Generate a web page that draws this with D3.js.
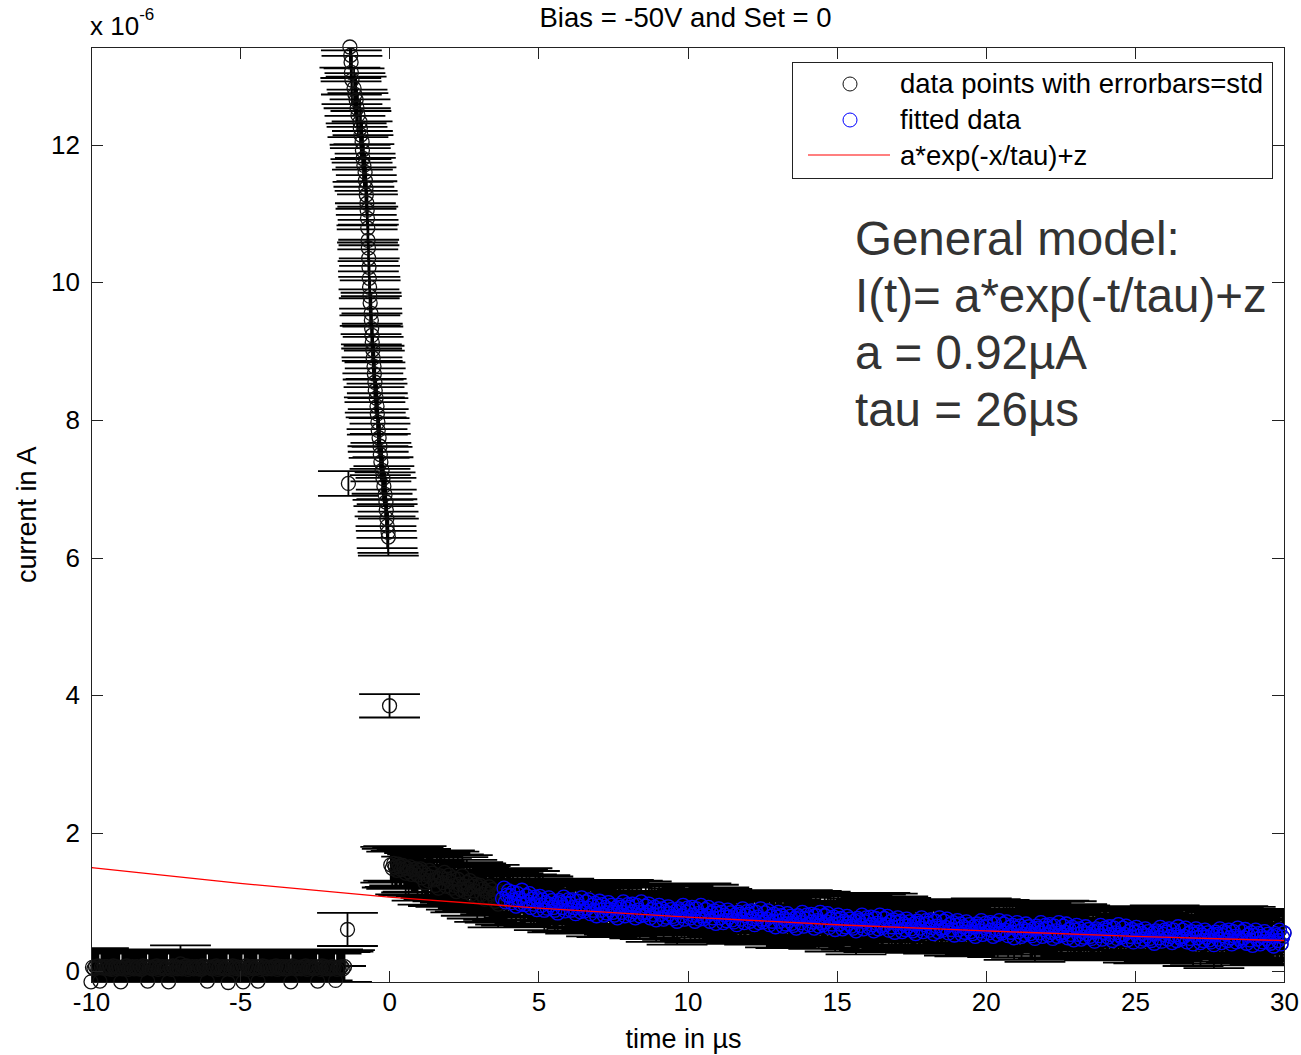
<!DOCTYPE html>
<html>
<head>
<meta charset="utf-8">
<script src="https://cdn.jsdelivr.net/npm/d3@7"></script>
<style>
	body { margin: 0; background: #fff; }
	svg { display: block; }
	text { font-family: 'Liberation Sans', Arial, sans-serif; }
</style>
</head>
<body>
<svg id="chart" width="1301" height="1055"></svg>
<script>
'use strict';

// values in microampere (axis shows x 10^-6 A), time in microseconds
var xTicks = [-10, -5, 0, 5, 10, 15, 20, 25, 30];
var yTicks = [0, 2, 4, 6, 8, 10, 12];

// flat part before the pulse, sampled every 0.05 us from -10 us
var baseStart = -10.0;
var baseStep  = 0.05;
var baseCurrent = [
	-0.16, 0.05, 0.03, 0.06, 0.04, 0.07, -0.15, 0.05, 0.04, 0.06,
	0.04, 0.06, 0.03, 0.05, 0.02, 0.07, 0.04, 0.06, 0.03, 0.05,
	-0.16, 0.03, 0.06, 0.04, 0.07, 0.02, 0.05, 0.04, 0.06, 0.03,
	0.04, 0.06, 0.03, 0.05, 0.02, 0.07, 0.04, 0.06, -0.15, 0.05,
	0.05, 0.03, 0.06, 0.04, 0.07, 0.02, 0.05, 0.04, 0.06, 0.03,
	0.04, 0.06, -0.16, 0.05, 0.02, 0.07, 0.04, 0.06, 0.03, 0.05,
	0.10, 0.03, 0.06, 0.04, 0.07, 0.02, 0.05, 0.04, 0.06, 0.03,
	0.04, 0.06, 0.03, 0.05, 0.02, 0.07, 0.04, 0.06, -0.15, 0.05,
	0.05, 0.03, 0.06, 0.04, 0.07, 0.02, 0.05, 0.04, 0.06, 0.03,
	0.04, 0.06, -0.17, 0.05, 0.02, 0.07, 0.04, 0.06, 0.03, 0.05,
	0.05, 0.03, -0.16, 0.04, 0.07, 0.02, 0.05, 0.04, 0.06, 0.03,
	0.04, 0.06, -0.15, 0.05, 0.02, 0.07, 0.04, 0.06, 0.03, 0.05,
	0.05, 0.03, 0.06, 0.04, 0.07, 0.02, 0.05, 0.04, 0.06, 0.03,
	0.04, 0.06, 0.03, 0.05, -0.16, 0.07, 0.04, 0.06, 0.03, 0.05,
	0.05, 0.03, 0.06, 0.04, 0.07, 0.02, 0.05, 0.04, 0.06, 0.03,
	0.04, 0.06, -0.15, 0.05, 0.02, 0.07, 0.04, 0.06, 0.03, 0.05,
	0.05, 0.03, 0.06, 0.04, -0.14, 0.02, 0.05, 0.04, 0.06, 0.03,
	0.06
];
var baseStd = [
	0.24, 0.22, 0.25, 0.23, 0.21, 0.26, 0.24, 0.23, 0.22, 0.25,
	0.23, 0.25, 0.22, 0.24, 0.26, 0.21, 0.24, 0.22, 0.25, 0.23,
	0.24, 0.22, 0.25, 0.23, 0.21, 0.26, 0.24, 0.23, 0.22, 0.25,
	0.23, 0.25, 0.22, 0.24, 0.26, 0.21, 0.24, 0.22, 0.25, 0.23,
	0.24, 0.22, 0.25, 0.23, 0.21, 0.26, 0.24, 0.23, 0.22, 0.25,
	0.23, 0.25, 0.22, 0.24, 0.26, 0.21, 0.24, 0.22, 0.25, 0.23,
	0.27, 0.22, 0.25, 0.23, 0.21, 0.26, 0.24, 0.23, 0.22, 0.25,
	0.23, 0.25, 0.22, 0.24, 0.26, 0.21, 0.24, 0.22, 0.25, 0.23,
	0.24, 0.22, 0.25, 0.23, 0.21, 0.26, 0.24, 0.23, 0.22, 0.25,
	0.23, 0.25, 0.22, 0.24, 0.26, 0.21, 0.24, 0.22, 0.25, 0.23,
	0.24, 0.22, 0.25, 0.23, 0.21, 0.26, 0.24, 0.23, 0.22, 0.25,
	0.23, 0.25, 0.22, 0.24, 0.26, 0.21, 0.24, 0.22, 0.25, 0.23,
	0.24, 0.22, 0.25, 0.23, 0.21, 0.26, 0.24, 0.23, 0.22, 0.25,
	0.23, 0.25, 0.22, 0.24, 0.26, 0.21, 0.24, 0.22, 0.25, 0.23,
	0.24, 0.22, 0.25, 0.23, 0.21, 0.26, 0.24, 0.23, 0.22, 0.25,
	0.23, 0.25, 0.22, 0.24, 0.26, 0.21, 0.24, 0.22, 0.25, 0.23,
	0.24, 0.22, 0.25, 0.23, 0.21, 0.26, 0.24, 0.23, 0.22, 0.25,
	0.24
];

// the pulse itself (first two and last one are the transition samples)
var spikeTime = [
	-1.40, -1.37,
	-1.32, -1.29, -1.28, -1.27, -1.25, -1.18, -1.15, -1.11, -1.08, -1.05,
	-0.98, -0.97, -0.95, -0.91, -0.90, -0.88, -0.85, -0.81, -0.80, -0.78,
	-0.77, -0.75, -0.74, -0.73, -0.72, -0.71, -0.70, -0.69, -0.68, -0.67,
	-0.66, -0.65, -0.64, -0.61, -0.60, -0.59, -0.58, -0.57, -0.55, -0.54,
	-0.51, -0.50, -0.48, -0.47, -0.44, -0.41, -0.40, -0.38, -0.37, -0.34,
	-0.31, -0.30, -0.28, -0.24, -0.21, -0.18, -0.14, -0.11, -0.10, -0.08,
	-0.07, -0.04, -0.03,
	0.01
];
var spikeCurrent = [
	0.60, 7.08,
	13.42, 13.30, 13.20, 13.05, 12.94, 12.82, 12.73, 12.65, 12.53, 12.43,
	12.33, 12.24, 12.14, 12.04, 11.92, 11.80, 11.70, 11.60, 11.48, 11.37,
	11.27, 11.15, 11.05, 10.93, 10.79, 10.61, 10.50, 10.35, 10.22, 10.06,
	9.93, 9.80, 9.70, 9.55, 9.45, 9.33, 9.23, 9.13, 9.02, 8.90,
	8.78, 8.67, 8.55, 8.43, 8.32, 8.20, 8.09, 7.97, 7.85, 7.74,
	7.62, 7.50, 7.39, 7.27, 7.15, 7.04, 6.92, 6.81, 6.69, 6.57,
	6.46, 6.37, 6.30,
	3.85
];
var spikeStd = [
	0.24, 0.18,
	0.30, 0.33, 0.28, 0.32, 0.35, 0.29, 0.31, 0.34, 0.27, 0.32,
	0.33, 0.29, 0.35, 0.30, 0.28, 0.34, 0.31, 0.27, 0.33, 0.30,
	0.29, 0.32, 0.28, 0.35, 0.31, 0.30, 0.34, 0.27, 0.32, 0.29,
	0.31, 0.28, 0.33, 0.30, 0.35, 0.29, 0.32, 0.27, 0.34, 0.31,
	0.30, 0.34, 0.29, 0.32, 0.28, 0.33, 0.30, 0.35, 0.31, 0.29,
	0.33, 0.30, 0.28, 0.34, 0.31, 0.29, 0.32, 0.35, 0.30, 0.28,
	0.32, 0.30, 0.27,
	0.17
];

// slow decay after the pulse, sampled every 0.05 us from 0.05 us
var decayStart = 0.05;
var decayStep  = 0.05;
var decayCurrent = [
	1.54, 1.49, 1.56, 1.51, 1.46, 1.55, 1.52, 1.47, 1.53, 1.50,
	1.42, 1.49, 1.44, 1.51, 1.40, 1.47, 1.43, 1.48, 1.39, 1.46,
	1.48, 1.35, 1.43, 1.28, 1.39, 1.31, 1.46, 1.36, 1.42, 1.32,
	1.24, 1.34, 1.20, 1.38, 1.35, 1.28, 1.43, 1.23, 1.33, 1.39,
	1.30, 1.20, 1.35, 1.24, 1.15, 1.33, 1.26, 1.18, 1.38, 1.23,
	1.15, 1.28, 1.19, 1.31, 1.11, 1.23, 1.16, 1.26, 1.08, 1.22,
	1.24, 1.11, 1.19, 1.04, 1.15, 1.07, 1.22, 1.12, 1.18, 1.08,
	1.01, 1.11, 0.97, 1.15, 1.12, 1.05, 1.20, 1.00, 1.10, 1.16,
	1.09, 0.99, 1.14, 1.03, 0.94, 1.12, 1.05, 0.97, 1.17, 1.02,
	0.96, 1.09, 1.00, 1.12, 0.92, 1.04, 0.97, 1.07, 0.89, 1.03,
	1.08, 0.95, 1.03, 0.88, 0.99, 0.91, 1.06, 0.96, 1.02, 0.92,
	0.88, 0.98, 0.84, 1.02, 0.99, 0.92, 1.07, 0.87, 0.97, 1.03,
	0.98, 0.88, 1.03, 0.92, 0.83, 1.01, 0.94, 0.86, 1.06, 0.91,
	0.87, 1.00, 0.91, 1.03, 0.83, 0.95, 0.88, 0.98, 0.80, 0.94,
	1.01, 0.88, 0.96, 0.81, 0.92, 0.84, 0.99, 0.89, 0.95, 0.85,
	0.81, 0.91, 0.77, 0.95, 0.92, 0.85, 1.00, 0.80, 0.90, 0.96,
	0.92, 0.82, 0.97, 0.86, 0.77, 0.95, 0.88, 0.80, 1.00, 0.85,
	0.81, 0.94, 0.85, 0.97, 0.77, 0.89, 0.82, 0.92, 0.74, 0.88,
	0.95, 0.82, 0.90, 0.75, 0.86, 0.78, 0.93, 0.83, 0.89, 0.79,
	0.76, 0.86, 0.72, 0.90, 0.87, 0.80, 0.95, 0.75, 0.85, 0.91,
	0.87, 0.77, 0.92, 0.81, 0.72, 0.90, 0.83, 0.75, 0.95, 0.80,
	0.76, 0.89, 0.80, 0.92, 0.72, 0.84, 0.77, 0.87, 0.69, 0.83,
	0.90, 0.77, 0.85, 0.70, 0.81, 0.73, 0.88, 0.78, 0.84, 0.74,
	0.71, 0.81, 0.67, 0.85, 0.82, 0.75, 0.90, 0.70, 0.80, 0.86,
	0.82, 0.72, 0.87, 0.76, 0.67, 0.85, 0.78, 0.70, 0.90, 0.75,
	0.71, 0.84, 0.75, 0.87, 0.67, 0.79, 0.72, 0.82, 0.64, 0.78,
	0.85, 0.72, 0.80, 0.65, 0.76, 0.68, 0.83, 0.73, 0.79, 0.69,
	0.66, 0.76, 0.62, 0.80, 0.77, 0.70, 0.85, 0.65, 0.75, 0.81,
	0.77, 0.67, 0.82, 0.71, 0.62, 0.80, 0.73, 0.65, 0.85, 0.70,
	0.67, 0.80, 0.71, 0.83, 0.63, 0.75, 0.68, 0.78, 0.60, 0.74,
	0.81, 0.68, 0.76, 0.61, 0.72, 0.64, 0.79, 0.69, 0.75, 0.65,
	0.62, 0.72, 0.58, 0.76, 0.73, 0.66, 0.81, 0.61, 0.71, 0.77,
	0.73, 0.63, 0.78, 0.67, 0.58, 0.76, 0.69, 0.61, 0.81, 0.66,
	0.63, 0.76, 0.67, 0.79, 0.59, 0.71, 0.64, 0.74, 0.56, 0.70,
	0.77, 0.64, 0.72, 0.57, 0.68, 0.60, 0.75, 0.65, 0.71, 0.61,
	0.58, 0.68, 0.54, 0.72, 0.69, 0.62, 0.77, 0.57, 0.67, 0.73,
	0.69, 0.59, 0.74, 0.63, 0.54, 0.72, 0.65, 0.57, 0.77, 0.62,
	0.59, 0.72, 0.63, 0.75, 0.55, 0.67, 0.60, 0.70, 0.52, 0.66,
	0.73, 0.60, 0.68, 0.53, 0.64, 0.56, 0.71, 0.61, 0.67, 0.57,
	0.54, 0.64, 0.50, 0.68, 0.65, 0.58, 0.73, 0.53, 0.63, 0.69,
	0.65, 0.55, 0.70, 0.59, 0.50, 0.68, 0.61, 0.53, 0.73, 0.58,
	0.55, 0.68, 0.59, 0.71, 0.51, 0.63, 0.56, 0.66, 0.48, 0.62,
	0.70, 0.57, 0.65, 0.50, 0.61, 0.53, 0.68, 0.58, 0.64, 0.54,
	0.51, 0.61, 0.47, 0.65, 0.62, 0.55, 0.70, 0.50, 0.60, 0.66,
	0.62, 0.52, 0.67, 0.56, 0.47, 0.65, 0.58, 0.50, 0.70, 0.55,
	0.52, 0.65, 0.56, 0.68, 0.48, 0.60, 0.53, 0.63, 0.45, 0.59,
	0.66, 0.53, 0.61, 0.46, 0.57, 0.49, 0.64, 0.54, 0.60, 0.50,
	0.47, 0.57, 0.43, 0.61, 0.58, 0.51, 0.66, 0.46, 0.56, 0.62,
	0.59, 0.49, 0.64, 0.53, 0.44, 0.62, 0.55, 0.47, 0.67, 0.52,
	0.49, 0.62, 0.53, 0.65, 0.45, 0.57, 0.50, 0.60, 0.42, 0.56,
	0.63, 0.50, 0.58, 0.43, 0.54, 0.46, 0.61, 0.51, 0.57, 0.47,
	0.44, 0.54, 0.40, 0.58, 0.55, 0.48, 0.63, 0.43, 0.53, 0.59,
	0.56, 0.46, 0.61, 0.50, 0.41, 0.59, 0.52, 0.44, 0.64, 0.49,
	0.46, 0.59, 0.50, 0.62, 0.42, 0.54, 0.47, 0.57, 0.39, 0.53,
	0.61, 0.48, 0.56, 0.41, 0.52, 0.44, 0.59, 0.49, 0.55, 0.45,
	0.42, 0.52, 0.38, 0.56, 0.53, 0.46, 0.61, 0.41, 0.51, 0.57,
	0.54, 0.44, 0.59, 0.48, 0.39, 0.57, 0.50, 0.42, 0.62, 0.47,
	0.44, 0.57, 0.48, 0.60, 0.40, 0.52, 0.45, 0.55, 0.37, 0.51,
	0.59, 0.46, 0.54, 0.39, 0.50, 0.42, 0.57, 0.47, 0.53, 0.43,
	0.40, 0.50, 0.36, 0.54, 0.51, 0.44, 0.59, 0.39, 0.49, 0.55
];
var decayStd = [
	0.26, 0.28, 0.25, 0.29, 0.27, 0.26, 0.28, 0.27, 0.25, 0.29,
	0.31, 0.27, 0.34, 0.29, 0.26, 0.32, 0.28, 0.33, 0.30, 0.27,
	0.29, 0.33, 0.28, 0.26, 0.31, 0.35, 0.27, 0.30, 0.32, 0.28,
	0.28, 0.31, 0.26, 0.33, 0.29, 0.27, 0.32, 0.30, 0.25, 0.34,
	0.31, 0.27, 0.34, 0.29, 0.26, 0.32, 0.28, 0.33, 0.30, 0.27,
	0.29, 0.33, 0.28, 0.26, 0.31, 0.35, 0.27, 0.30, 0.32, 0.28,
	0.28, 0.31, 0.26, 0.33, 0.29, 0.27, 0.32, 0.30, 0.25, 0.34,
	0.31, 0.27, 0.34, 0.29, 0.26, 0.32, 0.28, 0.33, 0.30, 0.27,
	0.29, 0.33, 0.28, 0.26, 0.31, 0.35, 0.27, 0.30, 0.32, 0.28,
	0.28, 0.31, 0.26, 0.33, 0.29, 0.27, 0.32, 0.30, 0.25, 0.34,
	0.31, 0.27, 0.34, 0.29, 0.26, 0.32, 0.28, 0.33, 0.30, 0.27,
	0.29, 0.33, 0.28, 0.26, 0.31, 0.35, 0.27, 0.30, 0.32, 0.28,
	0.28, 0.31, 0.26, 0.33, 0.29, 0.27, 0.32, 0.30, 0.25, 0.34,
	0.31, 0.27, 0.34, 0.29, 0.26, 0.32, 0.28, 0.33, 0.30, 0.27,
	0.29, 0.33, 0.28, 0.26, 0.31, 0.35, 0.27, 0.30, 0.32, 0.28,
	0.28, 0.31, 0.26, 0.33, 0.29, 0.27, 0.32, 0.30, 0.25, 0.34,
	0.31, 0.27, 0.34, 0.29, 0.26, 0.32, 0.28, 0.33, 0.30, 0.27,
	0.29, 0.33, 0.28, 0.26, 0.31, 0.35, 0.27, 0.30, 0.32, 0.28,
	0.28, 0.31, 0.26, 0.33, 0.29, 0.27, 0.32, 0.30, 0.25, 0.34,
	0.31, 0.27, 0.34, 0.29, 0.26, 0.32, 0.28, 0.33, 0.30, 0.27,
	0.29, 0.33, 0.28, 0.26, 0.31, 0.35, 0.27, 0.30, 0.32, 0.28,
	0.28, 0.31, 0.26, 0.33, 0.29, 0.27, 0.32, 0.30, 0.25, 0.34,
	0.31, 0.27, 0.34, 0.29, 0.26, 0.32, 0.28, 0.33, 0.30, 0.27,
	0.29, 0.33, 0.28, 0.26, 0.31, 0.35, 0.27, 0.30, 0.32, 0.28,
	0.28, 0.31, 0.26, 0.33, 0.29, 0.27, 0.32, 0.30, 0.25, 0.34,
	0.31, 0.27, 0.34, 0.29, 0.26, 0.32, 0.28, 0.33, 0.30, 0.27,
	0.29, 0.33, 0.28, 0.26, 0.31, 0.35, 0.27, 0.30, 0.32, 0.28,
	0.28, 0.31, 0.26, 0.33, 0.29, 0.27, 0.32, 0.30, 0.25, 0.34,
	0.31, 0.27, 0.34, 0.29, 0.26, 0.32, 0.28, 0.33, 0.30, 0.27,
	0.29, 0.33, 0.28, 0.26, 0.31, 0.35, 0.27, 0.30, 0.32, 0.28,
	0.28, 0.31, 0.26, 0.33, 0.29, 0.27, 0.32, 0.30, 0.25, 0.34,
	0.31, 0.27, 0.34, 0.29, 0.26, 0.32, 0.28, 0.33, 0.30, 0.27,
	0.29, 0.33, 0.28, 0.26, 0.31, 0.35, 0.27, 0.30, 0.32, 0.28,
	0.28, 0.31, 0.26, 0.33, 0.29, 0.27, 0.32, 0.30, 0.25, 0.34,
	0.31, 0.27, 0.34, 0.29, 0.26, 0.32, 0.28, 0.33, 0.30, 0.27,
	0.29, 0.33, 0.28, 0.26, 0.31, 0.35, 0.27, 0.30, 0.32, 0.28,
	0.28, 0.31, 0.26, 0.33, 0.29, 0.27, 0.32, 0.30, 0.25, 0.34,
	0.31, 0.27, 0.34, 0.29, 0.26, 0.32, 0.28, 0.33, 0.30, 0.27,
	0.29, 0.33, 0.28, 0.26, 0.31, 0.35, 0.27, 0.30, 0.32, 0.28,
	0.28, 0.31, 0.26, 0.33, 0.29, 0.27, 0.32, 0.30, 0.25, 0.34,
	0.31, 0.27, 0.34, 0.29, 0.26, 0.32, 0.28, 0.33, 0.30, 0.27,
	0.29, 0.33, 0.28, 0.26, 0.31, 0.35, 0.27, 0.30, 0.32, 0.28,
	0.28, 0.31, 0.26, 0.33, 0.29, 0.27, 0.32, 0.30, 0.25, 0.34,
	0.31, 0.27, 0.34, 0.29, 0.26, 0.32, 0.28, 0.33, 0.30, 0.27,
	0.29, 0.33, 0.28, 0.26, 0.31, 0.35, 0.27, 0.30, 0.32, 0.28,
	0.28, 0.31, 0.26, 0.33, 0.29, 0.27, 0.32, 0.30, 0.25, 0.34,
	0.31, 0.27, 0.34, 0.29, 0.26, 0.32, 0.28, 0.33, 0.30, 0.27,
	0.29, 0.33, 0.28, 0.26, 0.31, 0.35, 0.27, 0.30, 0.32, 0.28,
	0.28, 0.31, 0.26, 0.33, 0.29, 0.27, 0.32, 0.30, 0.25, 0.34,
	0.31, 0.27, 0.34, 0.29, 0.26, 0.32, 0.28, 0.33, 0.30, 0.27,
	0.29, 0.33, 0.28, 0.26, 0.31, 0.35, 0.27, 0.30, 0.32, 0.28,
	0.28, 0.31, 0.26, 0.33, 0.29, 0.27, 0.32, 0.30, 0.25, 0.34,
	0.31, 0.27, 0.34, 0.29, 0.26, 0.32, 0.28, 0.33, 0.30, 0.27,
	0.29, 0.33, 0.28, 0.26, 0.31, 0.35, 0.27, 0.30, 0.32, 0.28,
	0.28, 0.31, 0.26, 0.33, 0.29, 0.27, 0.32, 0.30, 0.25, 0.34,
	0.31, 0.27, 0.34, 0.29, 0.26, 0.32, 0.28, 0.33, 0.30, 0.27,
	0.29, 0.33, 0.28, 0.26, 0.31, 0.35, 0.27, 0.30, 0.32, 0.28,
	0.28, 0.31, 0.26, 0.33, 0.29, 0.27, 0.32, 0.30, 0.25, 0.34,
	0.31, 0.27, 0.34, 0.29, 0.26, 0.32, 0.28, 0.33, 0.30, 0.27,
	0.29, 0.33, 0.28, 0.26, 0.31, 0.35, 0.27, 0.30, 0.32, 0.28
];

// points from here on were used for the fit (blue)
var fitFrom = 3.8;

// fitted curve a*exp(-x/tau)+z
var fitTime    = [-10, -5, 0, 5, 10, 15, 20, 25, 30];
var fitCurrent = [1.50, 1.27, 1.07, 0.91, 0.78, 0.67, 0.58, 0.50, 0.44];

var legendLabels = ['data points with errorbars=std', 'fitted data', 'a*exp(-x/tau)+z'];
var modelLines   = ['General model:', 'I(t)= a*exp(-t/tau)+z', 'a = 0.92\u00b5A', 'tau = 26\u00b5s'];

var plot = { left: 91, top: 47, right: 1284, bottom: 982.5 };
var capHalf = 1.02;   // half width of the errorbar caps, in us
var markerR = 7;
var font    = "'Liberation Sans', Arial, sans-serif";

var svg = d3.select('#chart');

var x = d3.scaleLinear().domain([-10, 30]).range([plot.left, plot.right]);
var y = d3.scaleLinear().domain([-0.17, 13.42]).range([plot.bottom, plot.top]);

var points = [];

baseCurrent.forEach(function (v, i) {
	points.push({ t: baseStart + i * baseStep, v: v, s: baseStd[i] });
});
spikeCurrent.forEach(function (v, i) {
	points.push({ t: spikeTime[i], v: v, s: spikeStd[i] });
});
decayCurrent.forEach(function (v, i) {
	points.push({ t: decayStart + i * decayStep, v: v, s: decayStd[i], fit: true });
});

svg.append('defs').append('clipPath')
	.attr('id', 'plot-clip')
	.append('rect')
	.attr('x', plot.left)
	.attr('y', plot.top)
	.attr('width', plot.right - plot.left)
	.attr('height', plot.bottom - plot.top);

// errorbars: one vertical stroke and two wide caps per point
var bars = d3.path();

points.forEach(function (p) {
	var x0 = x(p.t - capHalf);
	var x1 = x(p.t + capHalf);
	var xc = x(p.t);
	var yt = y(p.v + p.s);
	var yb = y(p.v - p.s);

	bars.moveTo(xc, yt);
	bars.lineTo(xc, yb);
	bars.moveTo(x0, yt);
	bars.lineTo(x1, yt);
	bars.moveTo(x0, yb);
	bars.lineTo(x1, yb);
});

svg.append('path')
	.attr('clip-path', 'url(#plot-clip)')
	.attr('d', bars.toString())
	.attr('fill', 'none')
	.attr('stroke', '#000')
	.attr('stroke-width', 1.8);

svg.append('g')
	.selectAll('circle')
	.data(points)
	.enter().append('circle')
	.attr('cx', function (d) { return x(d.t); })
	.attr('cy', function (d) { return y(d.v); })
	.attr('r', markerR)
	.attr('fill', 'none')
	.attr('stroke', '#111')
	.attr('stroke-width', 1.3);

svg.append('g')
	.selectAll('circle')
	.data(points.filter(function (d) { return d.fit && d.t >= fitFrom; }))
	.enter().append('circle')
	.attr('cx', function (d) { return x(d.t); })
	.attr('cy', function (d) { return y(d.v); })
	.attr('r', markerR)
	.attr('fill', 'none')
	.attr('stroke', '#0000ff')
	.attr('stroke-width', 1.3);

var fitLine = d3.line()
	.x(function (d, i) { return x(fitTime[i]); })
	.y(function (d) { return y(d); })
	.curve(d3.curveMonotoneX);

svg.append('path')
	.attr('clip-path', 'url(#plot-clip)')
	.attr('d', fitLine(fitCurrent))
	.attr('fill', 'none')
	.attr('stroke', '#ff0000')
	.attr('stroke-width', 1.4);

// axes, MATLAB style: ticks inside on all four sides
function plainNumber(d) { return String(d); }

function styleAxis(g) {
	g.select('.domain').remove();
	g.selectAll('line').attr('stroke', '#222').attr('shape-rendering', 'crispEdges');
	g.attr('font-family', font).attr('font-size', 26);
	g.selectAll('text').attr('fill', '#000');
}

svg.append('g')
	.attr('transform', 'translate(0,' + plot.bottom + ')')
	.call(d3.axisBottom(x).tickValues(xTicks).tickSize(-12).tickPadding(10).tickFormat(plainNumber))
	.call(styleAxis);

svg.append('g')
	.attr('transform', 'translate(0,' + plot.top + ')')
	.call(d3.axisTop(x).tickValues(xTicks).tickSize(-12).tickFormat(''))
	.call(styleAxis);

svg.append('g')
	.attr('transform', 'translate(' + plot.left + ',0)')
	.call(d3.axisLeft(y).tickValues(yTicks).tickSize(-12).tickPadding(11).tickFormat(plainNumber))
	.call(styleAxis);

svg.append('g')
	.attr('transform', 'translate(' + plot.right + ',0)')
	.call(d3.axisRight(y).tickValues(yTicks).tickSize(-12).tickFormat(''))
	.call(styleAxis);

svg.append('rect')
	.attr('x', plot.left)
	.attr('y', plot.top)
	.attr('width', plot.right - plot.left)
	.attr('height', plot.bottom - plot.top)
	.attr('fill', 'none')
	.attr('stroke', '#222')
	.attr('shape-rendering', 'crispEdges');

// exponent label
var expo = svg.append('text')
	.attr('x', 90)
	.attr('y', 35)
	.attr('font-size', 26);
expo.append('tspan').text('x 10');
expo.append('tspan')
	.attr('font-size', 17)
	.attr('dy', -15)
	.text('-6');

svg.append('text')
	.attr('x', (plot.left + plot.right) / 2 - 2)
	.attr('y', 27)
	.attr('text-anchor', 'middle')
	.attr('font-size', 27.5)
	.text('Bias = -50V and Set = 0');

svg.append('text')
	.attr('x', (plot.left + plot.right) / 2 - 4)
	.attr('y', 1048)
	.attr('text-anchor', 'middle')
	.attr('font-size', 27)
	.text('time in \u00b5s');

svg.append('text')
	.attr('transform', 'translate(36,' + ((plot.top + plot.bottom) / 2) + ') rotate(-90)')
	.attr('text-anchor', 'middle')
	.attr('font-size', 27)
	.text('current in A');

// legend
var legend = svg.append('g').attr('transform', 'translate(792,62)');

legend.append('rect')
	.attr('x', 0.5)
	.attr('y', 0.5)
	.attr('width', 480)
	.attr('height', 116)
	.attr('fill', '#fff')
	.attr('stroke', '#222');

legend.append('circle')
	.attr('cx', 58).attr('cy', 22).attr('r', markerR)
	.attr('fill', 'none').attr('stroke', '#111');
legend.append('circle')
	.attr('cx', 58).attr('cy', 58).attr('r', markerR)
	.attr('fill', 'none').attr('stroke', '#0000ff');
legend.append('line')
	.attr('x1', 16).attr('x2', 98).attr('y1', 93).attr('y2', 93)
	.attr('stroke', '#ff0000').attr('stroke-width', 1.2);

legend.selectAll('text.label')
	.data(legendLabels)
	.enter().append('text')
	.attr('class', 'label')
	.attr('x', 108)
	.attr('y', function (d, i) { return 31 + i * 36; })
	.attr('font-size', 27.5)
	.text(function (d) { return d; });

// model annotation
svg.append('g')
	.selectAll('text')
	.data(modelLines)
	.enter().append('text')
	.attr('x', 855)
	.attr('y', function (d, i) { return 255 + i * 57; })
	.attr('font-size', 47.5)
	.attr('fill', '#333')
	.text(function (d) { return d; });
</script>
</body>
</html>
